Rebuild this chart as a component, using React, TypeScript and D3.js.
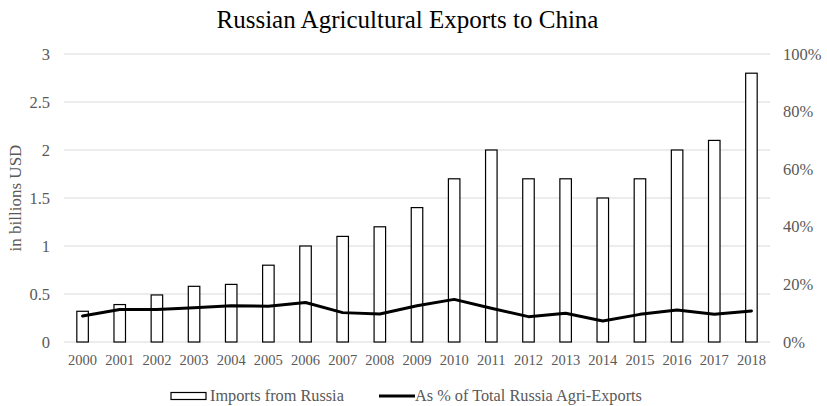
import React from "react";
import * as d3 from "d3";

const years = ["2000","2001","2002","2003","2004","2005","2006","2007","2008","2009","2010","2011","2012","2013","2014","2015","2016","2017","2018"];
const imports = [0.32,0.39,0.49,0.58,0.6,0.8,1.0,1.1,1.2,1.4,1.7,2.0,1.7,1.7,1.5,1.7,2.0,2.1,2.8];
const sharePct = [9.0,11.3,11.3,11.9,12.6,12.4,13.7,10.2,9.7,12.6,14.8,11.7,8.8,10.0,7.3,9.6,11.1,9.6,10.8];
const leftTicks = [0,0.5,1,1.5,2,2.5,3];
const rightTicks = [0,20,40,60,80,100];

const W = 827, H = 406;
const left = 64, right = 770, top = 54, bottom = 342;
const font = "'Liberation Serif', 'Times New Roman', serif";
const grey = "#595959";

export default function App() {
  const x = d3.scaleBand<string>().domain(years).range([left, right]).paddingInner(0.69).paddingOuter(0.345);
  const xc = (d: string) => (x(d) as number) + x.bandwidth() / 2;
  const yL = d3.scaleLinear().domain([0, 3]).range([bottom, top]);
  const yR = d3.scaleLinear().domain([0, 100]).range([bottom, top]);
  const line = d3.line<number>().x((_, i) => xc(years[i])).y(d => yR(d)).curve(d3.curveLinear);
  const leftFmt = (v: number) => String(v);

  return (
    <svg width={W} height={H} style={{ position: "absolute", left: 0, top: 0, display: "block", background: "#fff" }} fontFamily={font}>
      <text x={407.5} y={28} textAnchor="middle" fontSize={25} fill="#000">Russian Agricultural Exports to China</text>
      {leftTicks.map(t => (
        <g key={"g" + t}>
          <line x1={left} x2={right} y1={yL(t)} y2={yL(t)} stroke="#d9d9d9" strokeWidth={1} />
          <text x={50} y={yL(t) + 5.5} textAnchor="end" fontSize={16.5} fill={grey}>{leftFmt(t)}</text>
        </g>
      ))}
      {rightTicks.map(t => (
        <text key={"r" + t} x={783} y={yR(t) + 5.5} textAnchor="start" fontSize={16.5} fill={grey}>{t + "%"}</text>
      ))}
      <text transform={`translate(21,198) rotate(-90)`} textAnchor="middle" fontSize={17} fill={grey}>in billions USD</text>
      {years.map((yv, i) => (
        <rect key={yv} x={x(yv)} y={yL(imports[i])} width={x.bandwidth()} height={bottom - yL(imports[i])} fill="#fff" stroke="#000" strokeWidth={1.2} />
      ))}
      <path d={line(sharePct) || ""} fill="none" stroke="#000" strokeWidth={3} strokeLinejoin="round" strokeLinecap="round" />
      {years.map(yv => (
        <text key={"t" + yv} x={xc(yv)} y={364.5} textAnchor="middle" fontSize={14.5} fill={grey}>{yv}</text>
      ))}
      <rect x={171} y={392.5} width={35} height={7} fill="#fff" stroke="#000" strokeWidth={1.2} />
      <text x={210} y={401} fontSize={16.3} fill={grey}>Imports from Russia</text>
      <line x1={379} x2={415} y1={396} y2={396} stroke="#000" strokeWidth={3} />
      <text x={415} y={401} fontSize={16.3} fill={grey}>As % of Total Russia Agri-Exports</text>
    </svg>
  );
}
